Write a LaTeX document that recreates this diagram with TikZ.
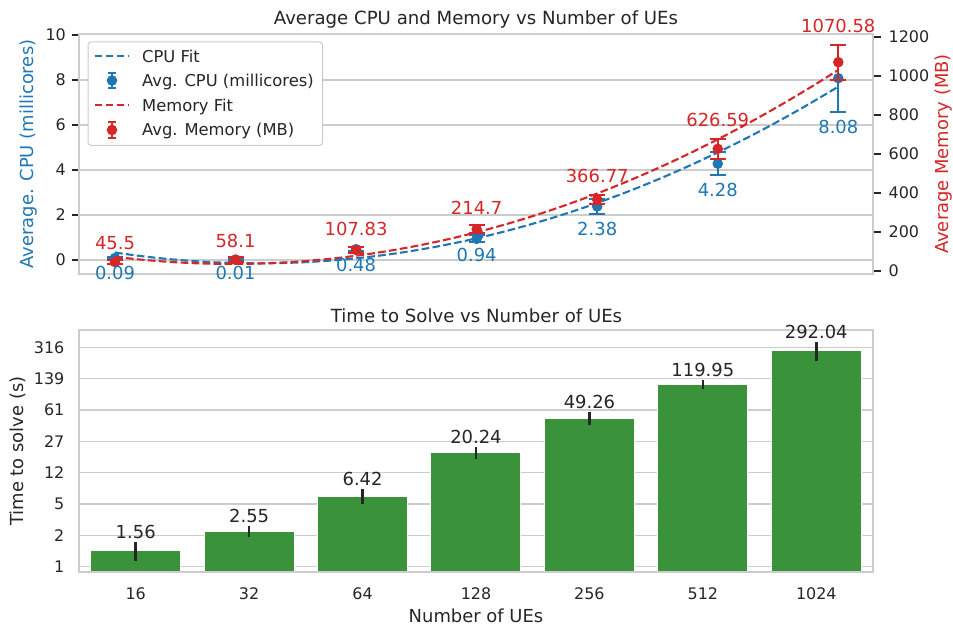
\documentclass[tikz,border=0pt]{standalone}
\usepackage{fontspec}
\setmainfont{DejaVu Sans}
\definecolor{cpublue}{HTML}{1F77B4}
\definecolor{memred}{HTML}{D62728}
\definecolor{bargreen}{HTML}{3A923A}
\definecolor{gridgray}{HTML}{CCCCCC}
\definecolor{ink}{HTML}{262626}
\newcommand{\fTick}{\fontsize{16}{19}\selectfont}
\newcommand{\fLeg}{\fontsize{16.4}{19}\selectfont}
\newcommand{\fAnno}{\fontsize{18}{21}\selectfont}
\newcommand{\fLab}{\fontsize{18}{21}\selectfont}
\newcommand{\fTitle}{\fontsize{18.2}{21}\selectfont}
\tikzset{
  gridline/.style={draw=gridgray, line width=1.2bp},
  axisframe/.style={draw=gridgray, line width=1.7bp},
  tickmark/.style={draw=ink, line width=1.2bp},
  fitline/.style={line width=2.1bp, dash pattern=on 7.7bp off 3.3bp},
  errline/.style={line width=2bp},
  txt/.style={inner sep=0pt, text=ink},
}
\begin{document}
\begin{tikzpicture}[x=1bp,y=-1bp]
\useasboundingbox[fill=white] (0,0) rectangle (953,626);

% ---------------- upper panel: CPU and memory ----------------
\foreach \g in {0,2,4,6,8}
  \draw[gridline] (79,{260-22.5*\g}) -- (873,{260-22.5*\g});

% CPU error bars and means
\foreach \i/\v/\e in {0/0.09/0.05, 1/0.01/0.04, 2/0.48/0.08, 3/0.94/0.15, 4/2.38/0.35, 5/4.28/0.5, 6/8.08/1.49}{
  \pgfmathsetmacro\px{115+120.55*\i}
  \pgfmathsetmacro\py{260-22.5*\v}
  \pgfmathsetmacro\pe{22.5*\e}
  \draw[errline, cpublue] (\px,\py-\pe) -- (\px,\py+\pe)
    (\px-8,\py-\pe) -- (\px+8,\py-\pe) (\px-8,\py+\pe) -- (\px+8,\py+\pe);
  \fill[cpublue] (\px,\py) circle[radius=5.3bp];
}
% CPU quadratic fit
\draw[fitline, cpublue] plot[domain=0:6, samples=90]
  ({115+120.55*\x}, {260-22.5*(0.9653+1.229*(\x-3)+0.3394*(\x-3)*(\x-3))});

% memory error bars and means
\foreach \i/\v/\e in {0/45.5/12, 1/58.1/14, 2/107.83/15, 3/214.7/20, 4/366.77/24, 5/626.59/51, 6/1070.58/90}{
  \pgfmathsetmacro\px{115+120.55*\i}
  \pgfmathsetmacro\py{271-0.195*\v}
  \pgfmathsetmacro\pe{0.195*\e}
  \draw[errline, memred] (\px,\py-\pe) -- (\px,\py+\pe)
    (\px-8,\py-\pe) -- (\px+8,\py-\pe) (\px-8,\py+\pe) -- (\px+8,\py+\pe);
  \fill[memred] (\px,\py) circle[radius=5.3bp];
}
% memory quadratic fit
\draw[fitline, memred] plot[domain=0:6, samples=90]
  ({115+120.55*\x}, {271-0.195*(198.68+159.68*(\x-3)+39.26*(\x-3)*(\x-3))});

\draw[axisframe] (79,34) rectangle (873,274);

% left axis ticks
\foreach \t in {0,2,4,6,8,10}{
  \draw[tickmark] (71.5,{260-22.5*\t}) -- (78,{260-22.5*\t});
  \node[txt, anchor=east] (lt\t) at (66,{260-22.5*\t}) {\fTick\t};
}
% right axis ticks
\foreach \t in {0,200,400,600,800,1000,1200}{
  \draw[tickmark] (874,{271-0.195*\t}) -- (881,{271-0.195*\t});
  \node[txt, anchor=west] (rt\t) at (888.5,{271-0.195*\t}) {\fTick\t};
}

% value labels
\foreach \i/\v/\ly in {0/0.09/273, 1/0.01/273, 2/0.48/265.3, 3/0.94/255, 4/2.38/229.3, 5/4.28/190, 6/8.08/126.7}
  \node[txt, text=cpublue] (cpulab\i) at ({115+120.55*\i},\ly) {\fAnno\v};
\foreach \i/\v/\ly in {0/45.5/243, 1/58.1/241.3, 2/107.83/229.3, 3/214.7/207.7, 4/366.77/176, 5/626.59/120, 6/1070.58/25.7}
  \node[txt, text=memred] (memlab\i) at ({115+120.55*\i},\ly) {\fAnno\v};

\node[txt, anchor=base] (toptitle) at (476,25) {\fTitle Average CPU and Memory vs Number of UEs};
\node[txt, text=cpublue, anchor=base, rotate=90] (cpuaxis) at (33.8,154) {\fLab Average. CPU (millicores)};
\node[txt, text=memred, anchor=base, rotate=90] (memaxis) at (948.3,154) {\fLab Average Memory (MB)};

% legend
\draw[draw=gridgray, line width=1bp, fill=white, rounded corners=3bp] (88,42) rectangle (322.5,145.3);
\draw[fitline, cpublue] (94.5,55.7) -- (128,55.7);
\node[txt, anchor=base west] (legA) at (142,62.3) {\fLeg CPU Fit};
\draw[errline, cpublue] (112,72.8) -- (112,88.2) (107.8,72.8) -- (116.2,72.8) (107.8,88.2) -- (116.2,88.2);
\fill[cpublue] (112,80.5) circle[radius=5.3bp];
\node[txt, anchor=base west] (legB) at (142,86.9) {\fLeg Avg. CPU (millicores)};
\draw[fitline, memred] (94.5,105.2) -- (128,105.2);
\node[txt, anchor=base west] (legC) at (142,111.5) {\fLeg Memory Fit};
\draw[errline, memred] (112,122.3) -- (112,137.7) (107.8,122.3) -- (116.2,122.3) (107.8,137.7) -- (116.2,137.7);
\fill[memred] (112,130) circle[radius=5.3bp];
\node[txt, anchor=base west] (legD) at (142,136) {\fLeg Avg. Memory (MB)};

% ---------------- lower panel: time to solve ----------------
\foreach \k/\lab in {0/1, 1/2, 2/5, 3/12, 4/27, 5/61, 6/139, 7/316}{
  \draw[gridline] (79,{566.7-31.34*\k}) -- (873,{566.7-31.34*\k});
  \node[txt, anchor=east] (bt\k) at (64.5,{566.7-31.34*\k}) {\fTick\lab};
}

\foreach \i/\v/\lo/\hi in {0/1.56/560.7/541.7, 1/2.55/537.3/526.3, 2/6.42/504.3/489.3,
    3/20.24/458.7/446.7, 4/49.26/425/412.3, 5/119.95/388.7/380, 6/292.04/360.7/341.7}{
  \pgfmathsetmacro\bx{135.7+113.43*\i}
  \pgfmathsetmacro\by{567-87.76*log10(\v)}
  \filldraw[fill=bargreen, draw=white, line width=1bp] (\bx-45,571.5) rectangle (\bx+45,\by);
  \draw[line width=2.6bp, ink] (\bx,\lo) -- (\bx,\hi);
}

\draw[axisframe] (79,330) rectangle (873,571.7);

% bar value labels and category labels
\foreach \i/\v/\ly/\n in {0/1.56/531.7/16, 1/2.55/516/32, 2/6.42/479/64, 3/20.24/436.7/128,
    4/49.26/402.3/256, 5/119.95/370/512, 6/292.04/331.7/1024}{
  \node[txt] (barlab\i) at ({135.7+113.43*\i},\ly) {\fAnno\v};
  \node[txt] (cat\i) at ({135.7+113.43*\i},593.3) {\fTick\n};
}

\node[txt, anchor=base] (bottitle) at (476.5,322.3) {\fTitle Time to Solve vs Number of UEs};
\node[txt, anchor=base] (xaxis) at (476,622.5) {\fLab Number of UEs};
\node[txt, anchor=base, rotate=90] (timeaxis) at (23.1,451) {\fLab Time to solve (s)};
\end{tikzpicture}
\end{document}
